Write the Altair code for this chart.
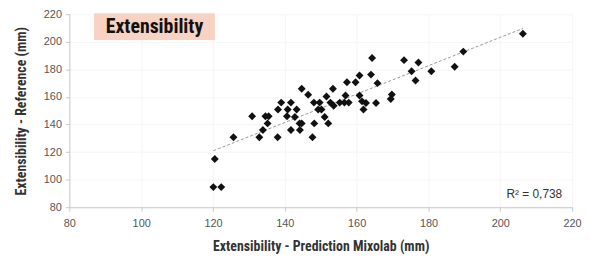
import altair as alt
import pandas as pd

# Extensibility: Mixolab prediction (x) vs reference (y), mm
pred_x = [120.5, 120.1, 122.3, 125.7, 130.9, 132.9, 133.9, 134.6, 135.5, 135.2,
          138.0, 138.1, 139.0, 140.8, 141.7, 140.6, 143.3, 142.8, 141.7, 144.1,
          144.7, 144.2, 144.7, 146.5, 148.2, 147.7, 148.1, 149.7, 149.3, 150.2,
          151.1, 151.6, 152.1, 152.7, 153.4, 153.6, 155.3, 156.6, 157.8, 156.9,
          157.3, 159.7, 160.8, 160.8, 161.5, 162.6, 161.9, 164.3, 164.0, 165.8,
          165.4, 169.8, 169.5, 173.2, 175.3, 177.2, 176.4, 180.8, 187.3, 189.7,
          206.3]
ref_y = [115.0, 94.6, 94.6, 130.8, 146.0, 130.8, 136.0, 146.0, 146.0, 140.8,
         130.8, 150.9, 155.9, 150.9, 155.9, 146.0, 150.9, 145.5, 136.0, 140.8,
         140.8, 136.0, 165.9, 161.6, 140.8, 130.8, 155.9, 155.9, 150.9, 150.9,
         145.5, 160.3, 140.8, 155.9, 165.9, 153.6, 155.9, 155.9, 155.9, 161.1,
         170.7, 170.7, 175.5, 161.1, 156.8, 155.6, 150.9, 188.2, 176.2, 170.0,
         155.6, 161.8, 158.5, 186.7, 178.6, 185.0, 171.9, 178.6, 181.9, 192.9,
         205.8]

x_ticks = [80, 100, 120, 140, 160, 180, 200, 220]
y_ticks = [80, 100, 120, 140, 160, 180, 200, 220]

chart_label = "Extensibility"
r2_label = "R² = 0,738"
x_title = "Extensibility - Prediction Mixolab (mm)"
y_title = "Extensibility - Reference (mm)"

df = pd.DataFrame({"x": pred_x, "y": ref_y})

W, H = 508, 195
narrow = "Liberation Sans Narrow, Roboto Condensed, Arial Narrow, sans-serif"
regular = "Liberation Sans, Arial, sans-serif"

xscale = alt.Scale(domain=[80, 220], nice=False, zero=False)
yscale = alt.Scale(domain=[80, 220], nice=False, zero=False)

xaxis = alt.Axis(values=x_ticks, title=x_title, grid=True, gridColor="#f5f5f5",
                 domainColor="#c8c8c8", tickColor="#c8c8c8", tickSize=4,
                 labelFont=regular, labelFontSize=11, labelColor="#555",
                 labelOverlap=False, labelFlush=False,
                 labelPadding=6, titleFont=narrow, titleFontSize=14,
                 titleFontWeight="bold", titleColor="#333", titleY=40,
                 titleBaseline="middle")
yaxis = alt.Axis(values=y_ticks, title=y_title, grid=True, gridColor="#f5f5f5",
                 domainColor="#c8c8c8", tickColor="#c8c8c8", tickSize=4,
                 labelFont=regular, labelFontSize=11, labelColor="#555",
                 labelOverlap=False, labelFlush=False,
                 labelPadding=4, titleFont=narrow, titleFontSize=14,
                 titleFontWeight="bold", titleColor="#333", titleX=-48,
                 titleY=H / 2, titleAngle=-90, titleBaseline="middle",
                 titleAlign="center")

base = alt.Chart(df)

points = base.mark_point(shape="diamond", filled=True, size=64, color="#111",
                         opacity=1).encode(
    x=alt.X("x:Q", scale=xscale, axis=xaxis),
    y=alt.Y("y:Q", scale=yscale, axis=yaxis),
)

trend = base.transform_regression("x", "y").mark_line(
    color="#999", strokeDash=[3, 2], strokeWidth=1).encode(
    x=alt.X("x:Q", scale=xscale, axis=xaxis),
    y=alt.Y("y:Q", scale=yscale, axis=yaxis),
)

label_df = pd.DataFrame({"t": [chart_label]})
box = alt.Chart(label_df).mark_rect(color="#f8d2c2").encode(
    x=alt.value(25), x2=alt.value(147), y=alt.value(-1), y2=alt.value(26))
box_text = alt.Chart(label_df).mark_text(
    font=narrow, fontSize=20, fontWeight="bold", color="#111",
    align="center", baseline="middle").encode(
    x=alt.value(86), y=alt.value(12.5), text="t:N")

r2_df = pd.DataFrame({"t": [r2_label]})
r2 = alt.Chart(r2_df).mark_text(
    font=regular, fontSize=12, color="#333", align="right",
    baseline="middle").encode(x=alt.value(498), y=alt.value(182), text="t:N")

chart = alt.layer(trend, points, box, box_text, r2).properties(
    width=W, height=H,
    autosize=alt.AutoSizeParams(type="none"),
    padding={"left": 62, "top": 5, "right": 10, "bottom": 48},
    background="white",
).configure_view(stroke=None)

chart.save("out.html", embed_options={"renderer": "svg", "actions": False})
